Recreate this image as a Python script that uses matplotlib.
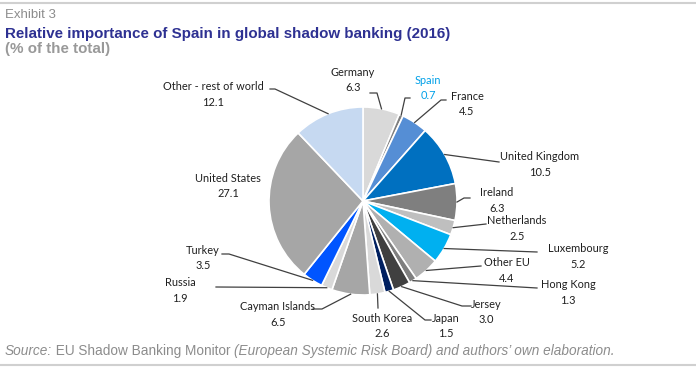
import matplotlib.pyplot as plt
import numpy as np

# Datos del gráfico (en sentido horario desde arriba)
labels = ['Germany', 'Spain', 'France', 'United Kingdom', 'Ireland', 'Netherlands',
          'Luxembourg', 'Other EU', 'Hong Kong', 'Jersey', 'Japan', 'South Korea',
          'Cayman Islands', 'Russia', 'Turkey', 'United States', 'Other - rest of world']
values = [6.3, 0.7, 4.5, 10.5, 6.3, 2.5, 5.2, 4.4, 1.3, 3.0, 1.5, 2.6, 6.5, 1.9, 3.5, 27.1, 12.1]
colors = ['#d9d9d9', '#7f7f7f', '#558ed5', '#0070c0', '#7f7f7f', '#bfbfbf',
          '#00b0f0', '#b0b0b0', '#7f7f7f', '#404040', '#002060', '#d9d9d9',
          '#a6a6a6', '#d9d9d9', '#0055ff', '#a6a6a6', '#c6d9f1']

# Posiciones de etiquetas (px): centro del texto, y punto final de la línea guía
label_pos = {
    'Germany': (353, 72), 'Spain': (428, 80), 'France': (467, 96),
    'United Kingdom': (540, 157), 'Ireland': (497, 193), 'Netherlands': (517, 221),
    'Luxembourg': (578, 249), 'Other EU': (507, 263), 'Hong Kong': (568, 285),
    'Jersey': (486, 304), 'Japan': (446, 318), 'South Korea': (382, 318),
    'Cayman Islands': (278, 307), 'Russia': (180, 283), 'Turkey': (203, 250),
    'United States': (228, 178), 'Other - rest of world': (213, 87),
}
leader_end = {
    'Germany': [(370, 93), (377, 93)], 'Spain': [(410, 98), (405, 98)],
    'France': [(446, 100), (441, 100)], 'United Kingdom': [(499, 162), (499, 162)],
    'Ireland': [(470, 198), (464, 198)], 'Netherlands': [(486, 224), (486, 224)],
    'Luxembourg': [(537, 252), (537, 252)], 'Other EU': [(481, 266), (481, 266)],
    'Hong Kong': [(537, 288), (537, 288)], 'Jersey': [(471, 306), (462, 306)],
    'Japan': [(431, 320), (425, 320)], 'South Korea': [(378, 308), (378, 308)],
    'Cayman Islands': [(313, 309), (322, 309)], 'Russia': [(216, 287), (216, 287)],
    'Turkey': [(222, 254), (229, 254)], 'Other - rest of world': [(270, 89), (275, 89)],
}

W, H = 696, 368
fig = plt.figure(figsize=(W / 100, H / 100), dpi=100)
ax = fig.add_axes([0, 0, 1, 1])

cx, cy, R = 363, 201, 94

# Eje y invertido: counterclock=True se ve en sentido horario
ax.pie(values, colors=colors, startangle=-90, counterclock=True, center=(cx, cy),
       radius=R, wedgeprops=dict(edgecolor='white', linewidth=1.2), frame=True)
ax.set_xlim(0, W)
ax.set_ylim(H, 0)
ax.set_aspect('equal')
ax.axis('off')

lab_font = 'Lato'
total = sum(values)
cum = 0
for lab, v in zip(labels, values):
    ang = np.deg2rad(-90 + (cum + v / 2) / total * 360)
    cum += v
    x0, y0 = cx + R * np.cos(ang), cy + R * np.sin(ang)
    tx, ty = label_pos[lab]
    col = '#00a0e8' if lab == 'Spain' else '#1f1f1f'
    ax.text(tx, ty, lab, ha='center', va='center', fontsize=7.9, color=col, family=lab_font)
    ax.text(tx, ty + 15.5, f'{v:.1f}', ha='center', va='center', fontsize=7.9,
            color=col, family=lab_font)
    if lab in leader_end:
        (ex, ey), (mx, my) = leader_end[lab]
        ax.plot([x0, mx, ex], [y0, my, ey], color='#404040', lw=0.9)

# Líneas horizontales de marco
ax.plot([0, W], [3, 3], color='#d0d0d0', lw=1.5)
ax.plot([0, W], [365, 365], color='#d0d0d0', lw=1.5)

# Títulos
ax.text(5, 15, 'Exhibit 3', fontsize=9.5, color='#8c8c8c', va='center', family='Liberation Sans')
ax.text(5, 34, 'Relative importance of Spain in global shadow banking (2016)', fontsize=10.9,
        fontweight='bold', color='#2e3192', va='center', family='Liberation Sans')
ax.text(5, 49, '(% of the total)', fontsize=10.9, fontweight='bold', color='#999999',
        va='center', family='Liberation Sans')

# Fuente (mezcla de cursiva y normal)
fig.canvas.draw()
rend = fig.canvas.get_renderer()
parts = [('Source:', 'italic'), (' EU Shadow Banking Monitor ', 'normal'),
         ('(European Systemic Risk Board) and authors\u2019 own elaboration.', 'italic')]
x = 5
for s, st in parts:
    t = ax.text(x, 351, s, fontsize=9.8, style=st, color='#8c8c8c', va='center',
                family='Liberation Sans')
    bb = t.get_window_extent(renderer=rend)
    x += bb.width

fig.savefig('out.png', dpi=100)
